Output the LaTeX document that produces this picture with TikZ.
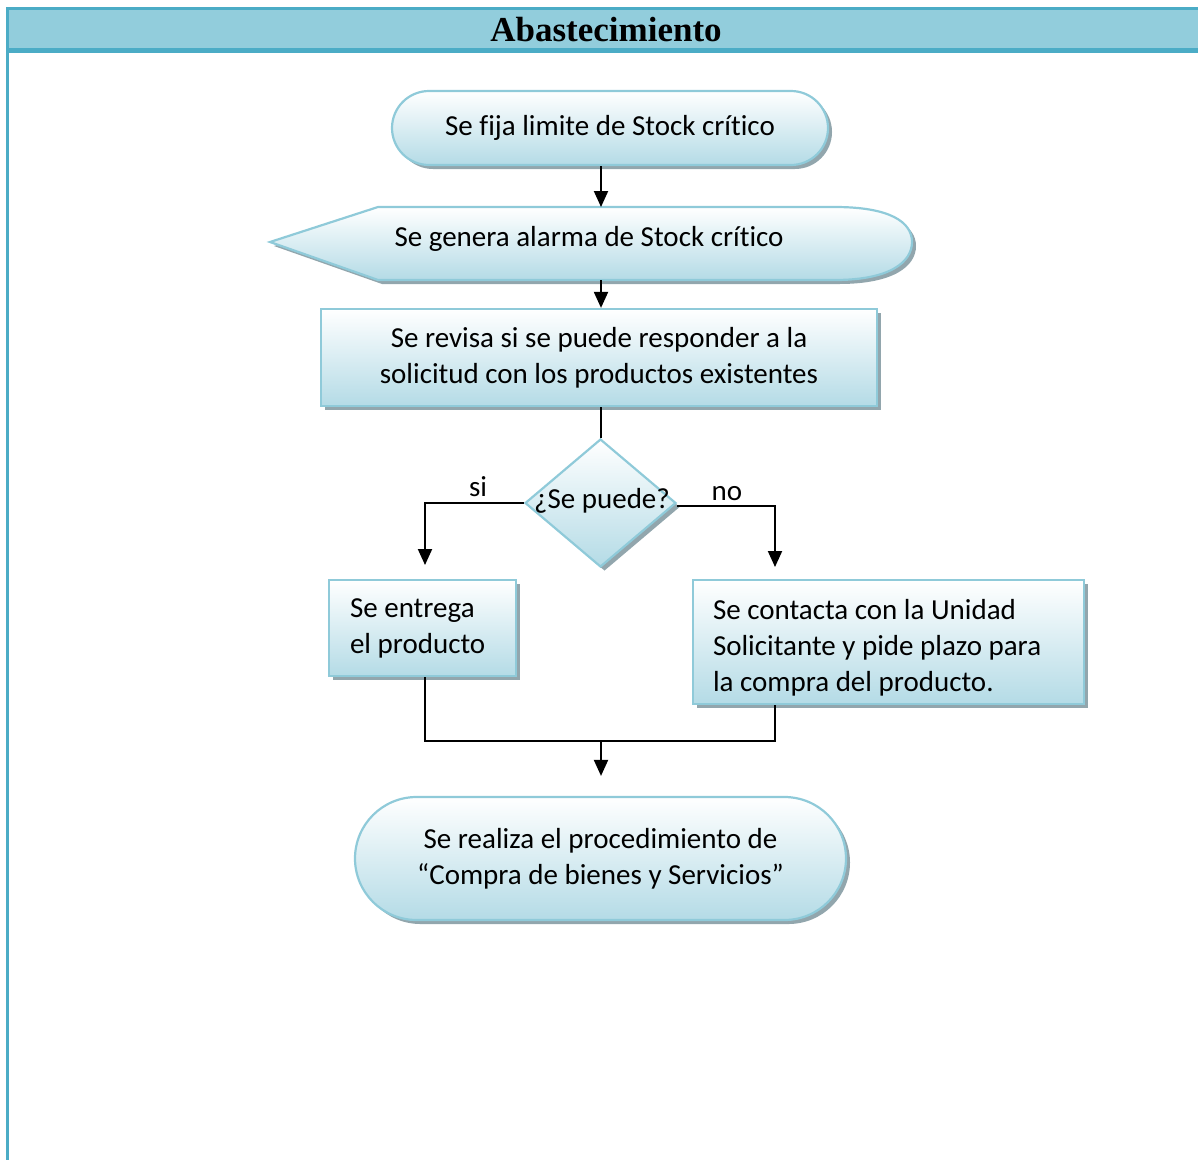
\documentclass[tikz,border=0pt]{standalone}
\usepackage{fontspec}
\setmainfont{Carlito}[Ligatures=NoCommon]
\newfontfamily\titlefont{Liberation Serif}
\usetikzlibrary{shapes.geometric,shapes.misc,arrows.meta,shadows,calc}
\definecolor{hdrfill}{HTML}{92CDDC}
\definecolor{hdrline}{HTML}{4BACC6}
\definecolor{nodeline}{HTML}{8FCAD9}
\definecolor{nodebot}{HTML}{B4DBE6}
\definecolor{shadowc}{HTML}{92A6AD}
\tikzset{
  box/.style={draw=nodeline, line width=2.2pt, top color=white, bottom color=nodebot,
    drop shadow={shadow xshift=4pt, shadow yshift=-4pt, fill=shadowc, opacity=1}},
  txt/.style={font=\fontsize{29}{36}\selectfont},
  conn/.style={line width=2pt, draw=black},
  arr/.style={conn, -{Triangle[length=16pt,width=14pt]}},
  term/.style={box, rounded rectangle, inner sep=0pt, align=center, txt},
  procbox/.style={box, rectangle, align=center, inner sep=0pt, txt},
}
\begin{document}
\begin{tikzpicture}[x=1pt,y=-1pt]
\useasboundingbox (0,0) rectangle (1198,1160);
% header
\fill[hdrfill] (9,10) rectangle (1198,48);
\draw[hdrline, line width=3pt] (6,8.5) -- (1198,8.5);
\draw[hdrline, line width=5pt] (9,50) -- (1198,50);
\draw[hdrline, line width=3pt] (7.5,7) -- (7.5,1160);
\node[font=\titlefont\bfseries\fontsize{35}{40}\selectfont] (title) at (606,30) {Abastecimiento};

% start terminator
\node[term, minimum width=436pt, minimum height=74pt] (fija) at (610,128) {Se fija limite de Stock crítico};

% display shape
\path[box] (270,242) -- (378,207) -- (835,207) .. controls (890,207) and (912,222) .. (912,242)
  .. controls (912,262) and (890,280) .. (835,280) -- (378,280) -- cycle;
\node[txt] (alarm) at (589,239) {Se genera alarma de Stock crítico};
\coordinate (alarmN) at (601,207);
\coordinate (alarmS) at (601,280);

% process
\node[procbox, minimum width=556pt, minimum height=97pt] (revisa) at (599,357.5)
  {Se revisa si se puede responder a la\\solicitud con los productos existentes};

% decision
\node[box, diamond, minimum width=151pt, minimum height=128pt, inner sep=0pt] (dec) at (600.5,503) {};
\node[txt] (dect) at (602,501) {¿Se puede?};
\node[txt] (si) at (478,487) {si};
\node[txt] (no) at (727,494) {no};

% result boxes
\node[box, rectangle, minimum height=96pt, text width=145pt, inner xsep=21pt, inner ysep=0pt, align=flush left, txt] (entrega) at (422.5,628) {Se entrega\\el producto};
\node[box, rectangle, minimum height=124pt, minimum width=391pt, inner sep=0pt] (contacta) at (888.5,642) {};
\node[txt, text width=351pt, inner sep=0pt, align=flush left] (contactaText) at (888.5,648) {Se contacta con la Unidad\\Solicitante y pide plazo para\\la compra del producto.};

% final terminator
\node[term, minimum width=491pt, minimum height=123pt] (final) at (600.5,858.5)
  {Se realiza el procedimiento de\\“Compra de bienes y Servicios”};

% connectors
\coordinate (siTip) at (425,565);
\coordinate (noTip) at (775,567);
\coordinate (noTurn) at (676,506);
\coordinate (j) at (601,741);
\draw[arr] (fija.south -| alarmN) -- (alarmN);
\draw[arr] (alarmS) -- (revisa.north -| alarmS);
\draw[conn] (revisa.south -| dec.north) -- (dec.north);
\draw[arr] (dec.west) -| (siTip);
\draw[arr] (dec.east |- noTurn) -| (noTip);
\draw[conn] (entrega.south -| siTip) |- (j) -| (contacta.south -| noTip);
\draw[arr, shorten >=20pt] (j) -- (final.north -| j);
\end{tikzpicture}
\end{document}
